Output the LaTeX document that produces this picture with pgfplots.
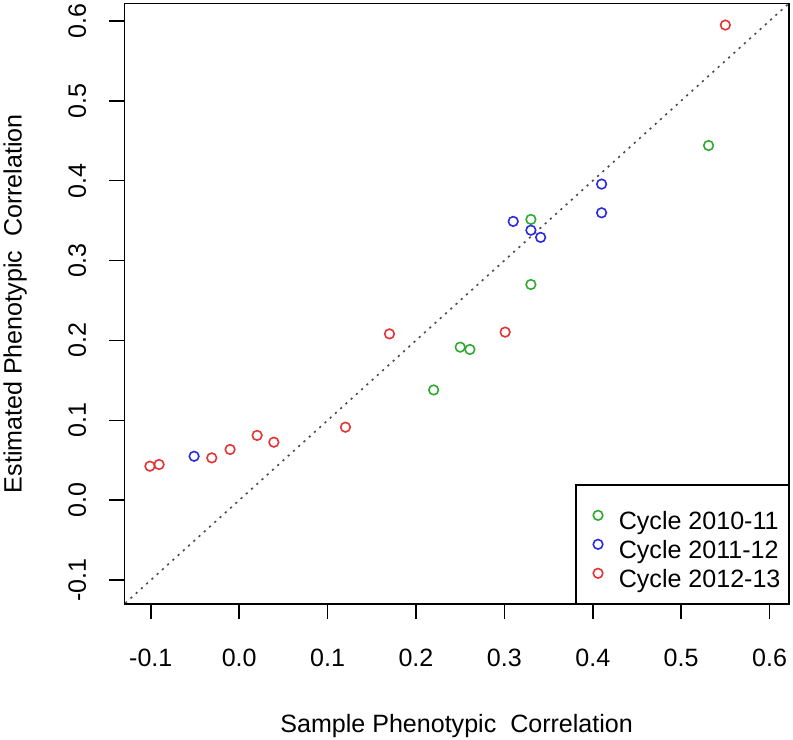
\documentclass[border=0pt]{standalone}
\usepackage{fontspec}
\setmainfont{Liberation Sans}
\usepackage{pgfplots}
\pgfplotsset{compat=1.18}
\definecolor{cg}{HTML}{2EAA2E}
\definecolor{cb}{HTML}{2B2BE0}
\definecolor{cr}{HTML}{E53333}
\definecolor{cd}{HTML}{4A4A4A}
\begin{document}
\fontsize{18.8}{22.5}\selectfont
\begin{tikzpicture}
\begin{axis}[
  width=498.5pt, height=450.5pt, scale only axis,
  xmin=-0.13, xmax=0.622, ymin=-0.13, ymax=0.622,
  axis line style={line width=1.1pt},
  xtick={-0.1,0,0.1,0.2,0.3,0.4,0.5,0.6},
  xticklabels={-0.1,0.0,0.1,0.2,0.3,0.4,0.5,0.6},
  ytick={-0.1,0,0.1,0.2,0.3,0.4,0.5,0.6},
  yticklabels={-0.1,0.0,0.1,0.2,0.3,0.4,0.5,0.6},
  tick align=outside, major tick length=11.25pt,
  tick style={line width=1.1pt, black},
  xtick pos=bottom, ytick pos=left,
  font=\fontsize{18.8}{22.5}\selectfont,
  xticklabel style={anchor=base, yshift=-35.25pt, inner sep=0pt},
  yticklabel style={rotate=90, anchor=base, yshift=17.5pt, inner sep=0pt},
  xlabel={Sample Phenotypic\ \ Correlation},
  ylabel={Estimated Phenotypic\ \ Correlation},
  xlabel style={at={(axis description cs:0.5,0)}, anchor=base, yshift=-96pt, inner sep=0pt},
  ylabel style={at={(axis description cs:0,0.5)}, rotate=0, anchor=base, yshift=77pt, inner sep=0pt},
  legend cell align=left,
  legend style={draw=none, fill=none, at={(rel axis cs:0.7051,0.1561)}, anchor=north west,
    inner sep=0pt, column sep=12pt, row sep=4.4pt, nodes={inner sep=0pt},
    font=\fontsize{18.8}{22.5}\selectfont},
  legend image code/.code={\draw[#1] plot coordinates {(0pt,5.5pt)};},
  every axis plot/.append style={line width=1.2pt},
]
\addplot[cd, line width=1.2pt, dash pattern=on 1.6pt off 3.7pt, forget plot] coordinates {(-0.2,-0.2) (0.7,0.7)};
\addplot[only marks, mark=o, mark size=3.6pt, cg] coordinates {
(0.531,0.444) (0.330,0.3515) (0.330,0.270) (0.250,0.1916) (0.261,0.1887) (0.220,0.138)};
\addlegendentry{Cycle 2010-11}
\addplot[only marks, mark=o, mark size=3.6pt, cb] coordinates {
(-0.051,0.055) (0.410,0.3957) (0.410,0.3598) (0.310,0.349) (0.330,0.338) (0.341,0.329)};
\addlegendentry{Cycle 2011-12}
\addplot[only marks, mark=o, mark size=3.6pt, cr] coordinates {
(-0.101,0.0426) (-0.0906,0.0447) (-0.031,0.053) (-0.0103,0.0635) (0.0203,0.0811) (0.0392,0.0726)
(0.1202,0.0914) (0.170,0.2082) (0.3009,0.2104) (0.550,0.5948)};
\addlegendentry{Cycle 2012-13}
\draw[line width=1.1pt] (rel axis cs:0.6796,0) |- (rel axis cs:1,0.1981);
\end{axis}
\pgfresetboundingbox
\path[use as bounding box] ([xshift=-93.2pt,yshift=-101.25pt]current axis.south west) rectangle ([xshift=3pt,yshift=2.5pt]current axis.north east);
\end{tikzpicture}
\end{document}
